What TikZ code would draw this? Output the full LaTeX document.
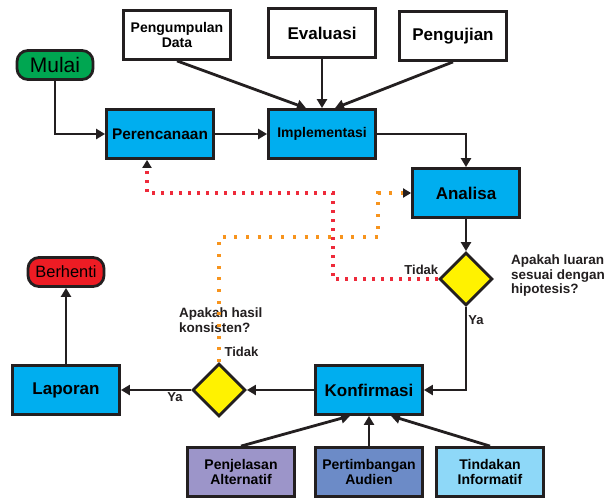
\documentclass[tikz,border=0pt]{standalone}
\usepackage{fontspec}
\setmainfont{Liberation Sans}
\usepackage{tikz}
\usetikzlibrary{arrows.meta,positioning,calc,shapes.geometric}
\definecolor{flink}{HTML}{231F20}
\definecolor{flblue}{HTML}{00AEEF}
\definecolor{flgreen}{HTML}{00A651}
\definecolor{flred}{HTML}{ED1C24}
\definecolor{flyel}{HTML}{FFF200}
\definecolor{flpurp}{HTML}{9C95C9}
\definecolor{flmid}{HTML}{6C8BC7}
\definecolor{fllite}{HTML}{8ED8F8}
\definecolor{fldotr}{HTML}{EE2A3A}
\definecolor{fldoto}{HTML}{F7941D}

\begin{document}
\begin{tikzpicture}[x=1pt,y=-1pt,>={Triangle[length=9pt,width=10pt]},
  box/.style={draw=flink,line width=2.8pt,minimum width=107pt,minimum height=49pt,align=center,inner sep=1pt,font=\bfseries\fontsize{14}{15}\selectfont},
  proc/.style={box,fill=flblue},
  inp/.style={box,fill=white},
  term/.style={draw=flink,line width=2.8pt,rounded corners=11pt,minimum width=76pt,minimum height=29pt,inner sep=0pt},
  dec/.style={draw=flink,line width=2.8pt,fill=flyel,diamond,minimum width=53pt,minimum height=53pt,inner sep=0pt},
  ar/.style={->,flink,line width=2.8pt},
  dotr/.style={fldotr,line width=3.2pt,dash pattern=on 3pt off 6pt,-{Triangle[length=8pt,width=9pt,color=flink]}},
  doto/.style={fldoto,line width=3.2pt,dash pattern=on 3pt off 8.7pt,-{Triangle[length=8pt,width=9pt,color=flink]}},
  lbl/.style={font=\bfseries\fontsize{13}{14}\selectfont,text=flink,inner sep=1pt},
  qst/.style={font=\bfseries\fontsize{13.5}{14.5}\selectfont,text=flink,align=left,inner sep=0pt,anchor=west}]
\useasboundingbox (0,0) rectangle (606,498);

% start and the three inputs
\node[term,fill=flgreen,font=\fontsize{21}{22}\selectfont] (mulai) at (55,65) {Mulai};
\node[inp] (pd) at (177,35) {Pengumpulan\\Data};
\node[inp,font=\bfseries\fontsize{17}{18}\selectfont] (ev) at (322,33) {Evaluasi};
\node[inp,font=\bfseries\fontsize{17}{18}\selectfont] (pgj) at (453,36) {Pengujian};

% main process
\node[proc,font=\bfseries\fontsize{15.4}{17}\selectfont] (per) at (160,134) {Perencanaan};
\node[proc] (impl) at (322,134) {Implementasi};
\node[proc,font=\bfseries\fontsize{17}{18}\selectfont] (ana) at (466,193) {Analisa};
\node[dec] (d1) at (466,279) {};
\node[qst] (q1) at (511,276) {Apakah luaran\\sesuai dengan\\hipotesis?};
\node[proc,font=\bfseries\fontsize{17}{18}\selectfont] (konf) at (369,390) {Konfirmasi};
\node[dec] (d2) at (219,390) {};
\node[qst] (q2) at (179,320) {Apakah hasil\\konsisten?};
\node[proc,font=\bfseries\fontsize{17}{18}\selectfont] (lap) at (66,390) {Laporan};
\node[term,fill=flred,font=\fontsize{16.4}{18}\selectfont] (berh) at (66,272) {Berhenti};

% bottom inputs
\node[box,fill=flpurp] (penj) at (241,472) {Penjelasan\\Alternatif};
\node[box,fill=flmid] (pert) at (369,472) {Pertimbangan\\Audien};
\node[box,fill=fllite] (tind) at (490,472) {Tindakan\\Informatif};

\coordinate (rb) at (333,193);
\coordinate (ob) at (378,237);

\draw[ar] (mulai.south) |- (per.west);
\draw[ar] (per) -- (impl);
\draw[ar] (pd.south) -- ([xshift=-16pt]impl.north);
\draw[ar] (ev.south) -- (impl.north);
\draw[ar] (pgj.south) -- ([xshift=13pt]impl.north);
\draw[ar] (impl.east) -| (ana.north);
\draw[ar] (ana) -- (d1);
\draw[ar] (d1.south) |- node[lbl,right,pos=0.08]{Ya} (konf.east);
\draw[ar] (konf) -- (d2);
\draw[ar] (d2.west) -- node[lbl,below,pos=0.23]{Ya} (lap.east);
\draw[ar] (lap) -- (berh);
\draw[ar] (penj.north) -- ([xshift=-19pt]konf.south);
\draw[ar] (pert) -- (konf);
\draw[ar] (tind.north) -- ([xshift=22pt]konf.south);

% loops back
\draw[dotr] (d1.west) -| node[lbl,above,pos=0.08,yshift=2pt]{Tidak} (rb) -| ([xshift=-13pt]per.south);
\draw[doto] (d2.north) |- node[lbl,right,pos=0.04,xshift=3pt]{Tidak} (ob) |- (ana.west);
\end{tikzpicture}
\end{document}
